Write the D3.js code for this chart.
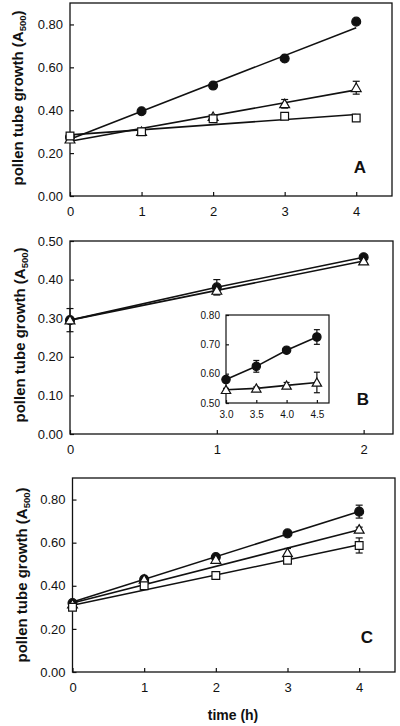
<!DOCTYPE html>
<html><head><meta charset="utf-8">
<script src="https://cdn.jsdelivr.net/npm/d3@7"></script>
<style>
body{margin:0;background:#fff;}
text{font-family:"Liberation Sans",Arial,sans-serif;fill:#111;}
</style></head>
<body><svg id="c" width="400" height="726"></svg>
<script>
// ---------- data ----------
const timeA = [0, 1, 2, 3, 4];
const circlesA = [0.275, 0.395, 0.515, 0.641, 0.813];
const trianglesA = [0.265, 0.30, 0.37, 0.43, 0.505];
const trianglesAErr = [0, 0, 0, 0.02, 0.03];
const squaresA = [0.28, 0.30, 0.36, 0.372, 0.364];
const fitCirclesA = [0.265, 0.785];
const fitTrianglesA = [0.255, 0.495];
const fitSquaresA = [0.285, 0.38];

const timeB = [0, 1, 2];
const circlesB = [0.295, 0.38, 0.458];
const circlesBErr = [0, 0.02, 0];
const trianglesB = [0.295, 0.372, 0.448];
const trianglesBErr = [0.03, 0.01, 0];

const timeInset = [3.0, 3.5, 4.0, 4.5];
const circlesInset = [0.58, 0.625, 0.68, 0.725];
const circlesInsetErr = [0.01, 0.02, 0.005, 0.025];
const trianglesInset = [0.545, 0.55, 0.56, 0.57];
const trianglesInsetErr = [0.005, 0.005, 0.01, 0.035];

const timeC = [0, 1, 2, 3, 4];
const circlesC = [0.32, 0.43, 0.533, 0.643, 0.744];
const circlesCErr = [0, 0.01, 0.01, 0.01, 0.03];
const trianglesC = [0.315, 0.43, 0.522, 0.553, 0.662];
const trianglesCErr = [0, 0, 0, 0.02, 0.01];
const squaresC = [0.30, 0.40, 0.448, 0.518, 0.587];
const squaresCErr = [0, 0, 0, 0, 0.035];
const fitCirclesC = [0.325, 0.745];
const fitTrianglesC = [0.32, 0.66];
const fitSquaresC = [0.31, 0.59];

const ticksA = [0, 0.2, 0.4, 0.6, 0.8];
const ticksB = [0, 0.1, 0.2, 0.3, 0.4, 0.5];
const ticksInsetY = [0.5, 0.6, 0.7, 0.8];
const ticksInsetX = [3.0, 3.5, 4.0, 4.5];

// ---------- drawing ----------
const svg = d3.select("#c");

function panel(box, xDom, yDom, xTicks, yTicks, opts) {
  const g = svg.append("g");
  const x = d3.scaleLinear().domain(xDom).range([box.l, box.r]);
  const y = d3.scaleLinear().domain(yDom).range([box.b, box.t]);
  g.append("rect").attr("x", box.l).attr("y", box.t)
    .attr("width", box.r - box.l).attr("height", box.b - box.t)
    .attr("fill", "none").attr("stroke", "#111").attr("stroke-width", opts.bw || 1.3);
  const fs = opts.fs || 13;
  const xa = g.append("g").attr("transform", `translate(0,${box.b})`)
    .call(d3.axisBottom(x).tickValues(xTicks).tickSize(-(opts.tick || 4)).tickPadding(opts.xpad || 11)
      .tickFormat(opts.xfmt || d3.format("d")));
  const ya = g.append("g").attr("transform", `translate(${box.l},0)`)
    .call(d3.axisLeft(y).tickValues(yTicks).tickSize(-(opts.tick || 4)).tickPadding(opts.ypad || 7)
      .tickFormat(d3.format(".2f")));
  [xa, ya].forEach(a => {
    a.select(".domain").remove();
    a.selectAll("line").attr("stroke", "#111").attr("stroke-width", 1.2);
    a.selectAll("text").attr("font-size", fs).attr("fill", "#111")
      .style("font-family", '"Liberation Sans",Arial,sans-serif');
  });
  return {g, x, y};
}

function fitLine(p, xs, ends) {
  p.g.append("line")
    .attr("x1", p.x(xs[0])).attr("y1", p.y(ends[0]))
    .attr("x2", p.x(xs[xs.length - 1])).attr("y2", p.y(ends[1]))
    .attr("stroke", "#111").attr("stroke-width", 1.6);
}
function pathLine(p, xs, ys) {
  const line = d3.line().x((d, i) => p.x(xs[i])).y(d => p.y(d));
  p.g.append("path").attr("d", line(ys)).attr("fill", "none")
    .attr("stroke", "#111").attr("stroke-width", 1.6);
}
function errBars(p, xs, ys, errs, cap) {
  cap = cap || 3.5;
  ys.forEach((v, i) => {
    const e = errs[i]; if (!e) return;
    const cx = p.x(xs[i]);
    const g = p.g.append("g").attr("stroke", "#111").attr("stroke-width", 1.2);
    g.append("line").attr("x1", cx).attr("x2", cx).attr("y1", p.y(v - e)).attr("y2", p.y(v + e));
    g.append("line").attr("x1", cx - cap).attr("x2", cx + cap).attr("y1", p.y(v + e)).attr("y2", p.y(v + e));
    g.append("line").attr("x1", cx - cap).attr("x2", cx + cap).attr("y1", p.y(v - e)).attr("y2", p.y(v - e));
  });
}
function markers(p, xs, ys, type, size) {
  const sym = {circle: d3.symbolCircle, triangle: d3.symbolTriangle, square: d3.symbolSquare}[type];
  const filled = type === "circle";
  p.g.selectAll(null).data(ys).enter().append("path")
    .attr("d", d3.symbol().type(sym).size(size))
    .attr("transform", (d, i) => `translate(${p.x(xs[i])},${p.y(d) + (type === "triangle" ? 1 : 0)})`)
    .attr("fill", filled ? "#111" : "#fff")
    .attr("stroke", "#111").attr("stroke-width", 1.2);
}
function yTitle(cx, cy) {
  const t = svg.append("text").attr("transform", `translate(${cx},${cy}) rotate(-90)`)
    .attr("text-anchor", "middle").attr("font-size", 15).attr("font-weight", "bold");
  t.append("tspan").text("pollen tube growth (A");
  t.append("tspan").attr("font-size", 9.5).attr("dy", 3).text("500");
  t.append("tspan").attr("dy", -3).text(")");
}
function letter(p, xv, yv, s) {
  svg.append("text").attr("x", xv).attr("y", yv).attr("text-anchor", "middle")
    .attr("font-size", 17).attr("font-weight", "bold").text(s);
}

// Panel A
const pA = panel({l: 70, r: 392, t: 3, b: 196}, [0, 4.5], [0, 0.9], timeA, ticksA, {});
fitLine(pA, timeA, fitSquaresA);
fitLine(pA, timeA, fitTrianglesA);
fitLine(pA, timeA, fitCirclesA);
errBars(pA, timeA, trianglesA, trianglesAErr);
markers(pA, timeA, circlesA, "circle", 62);
markers(pA, timeA, trianglesA, "triangle", 42);
markers(pA, timeA, squaresA, "square", 60);
yTitle(23, 98);
letter(pA, 360, 173, "A");

// Panel B
const pB = panel({l: 70, r: 393, t: 241, b: 434}, [0, 2.2], [0, 0.5], timeB, ticksB, {});
pathLine(pB, timeB, circlesB);
pathLine(pB, timeB, trianglesB);
errBars(pB, timeB, circlesB, circlesBErr);
errBars(pB, timeB, trianglesB, trianglesBErr);
markers(pB, timeB, circlesB, "circle", 62);
markers(pB, timeB, trianglesB, "triangle", 42);
yTitle(25, 335);
letter(pB, 363, 405, "B");

// Inset
const pI = panel({l: 226, r: 329, t: 315, b: 403}, [3.0, 4.7], [0.5, 0.8], ticksInsetX, ticksInsetY,
  {fs: 10, tick: 3, xpad: 8, ypad: 6, bw: 1.2, xfmt: d3.format(".1f")});
pathLine(pI, timeInset, circlesInset);
pathLine(pI, timeInset, trianglesInset);
errBars(pI, timeInset, circlesInset, circlesInsetErr, 3);
errBars(pI, timeInset, trianglesInset, trianglesInsetErr, 3);
markers(pI, timeInset, circlesInset, "circle", 55);
markers(pI, timeInset, trianglesInset, "triangle", 38);

// Panel C
const pC = panel({l: 72.5, r: 395, t: 478, b: 672}, [0, 4.5], [0, 0.9], timeC, ticksA, {});
fitLine(pC, timeC, fitSquaresC);
fitLine(pC, timeC, fitTrianglesC);
fitLine(pC, timeC, fitCirclesC);
errBars(pC, timeC, circlesC, circlesCErr);
errBars(pC, timeC, trianglesC, trianglesCErr);
errBars(pC, timeC, squaresC, squaresCErr);
markers(pC, timeC, circlesC, "circle", 62);
markers(pC, timeC, trianglesC, "triangle", 42);
markers(pC, timeC, squaresC, "square", 60);
yTitle(27, 575);
letter(pC, 367, 643, "C");

svg.append("text").attr("x", 233).attr("y", 720).attr("text-anchor", "middle")
  .attr("font-size", 14).attr("font-weight", "bold").text("time (h)");
</script></body></html>
